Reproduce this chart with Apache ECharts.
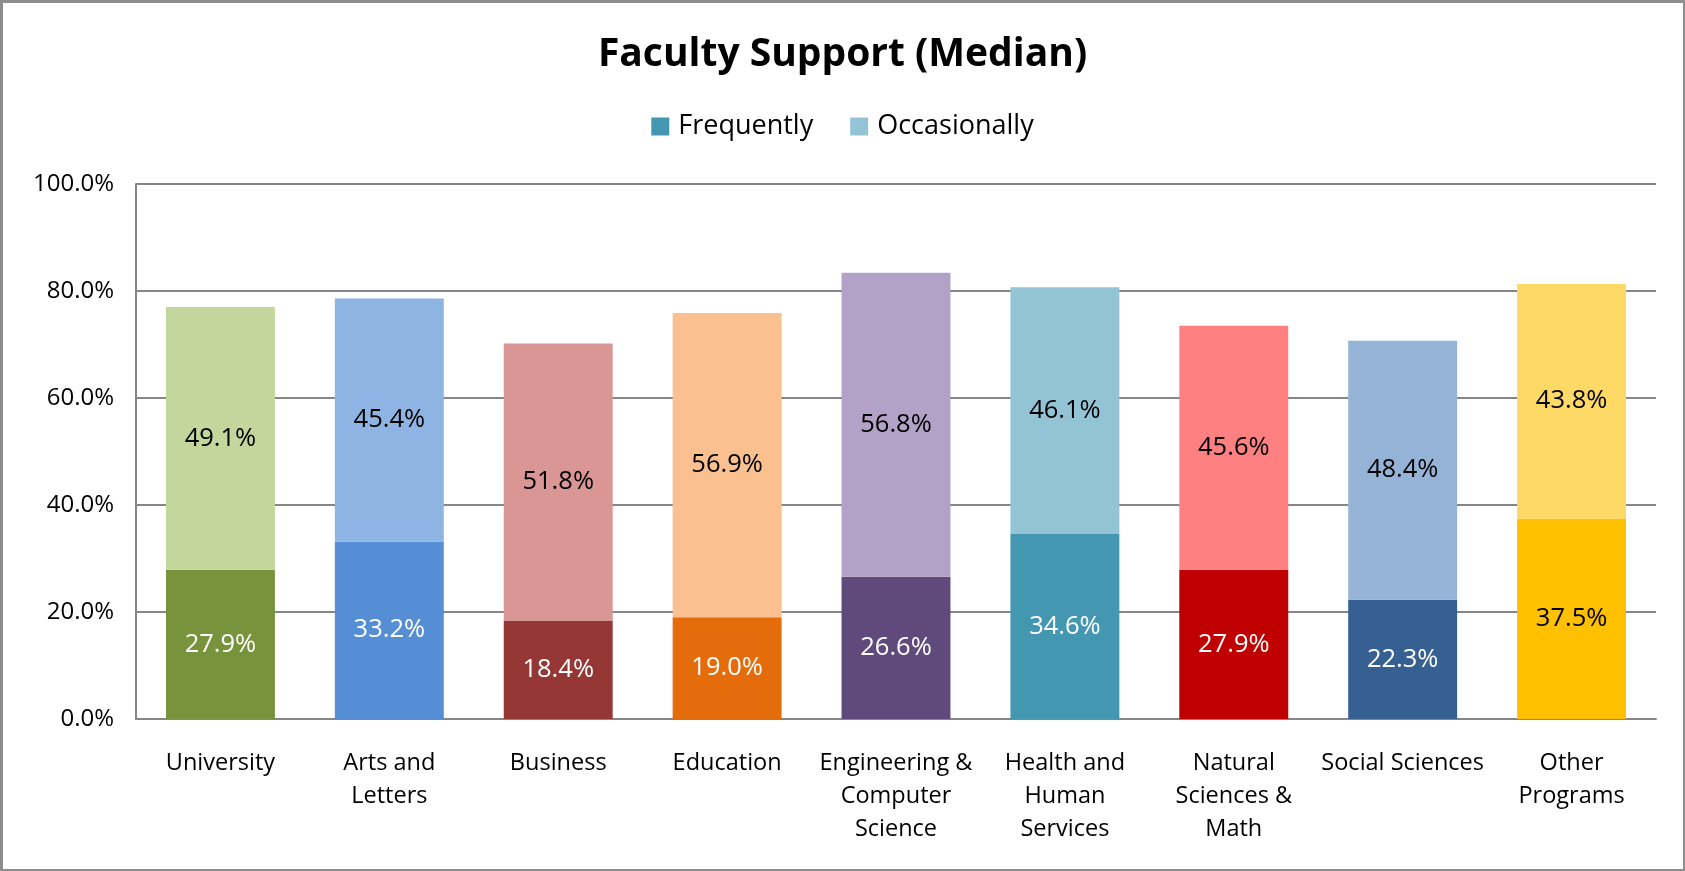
<!DOCTYPE html>
<html>
<head>
<meta charset="utf-8">
<title>Faculty Support (Median)</title>
<script src="https://cdn.jsdelivr.net/npm/echarts@6/dist/echarts.min.js"></script>
<style>
    html, body { margin: 0; padding: 0; background: #fff; }
    #chartMain { width: 1685px; height: 871px; }
    .frame {
        position: absolute; left: 0; top: 0;
        width: 1685px; height: 871px;
        box-sizing: border-box;
        border-style: solid; border-color: #8d8d8d;
        border-width: 3px 2px 2px 3px;
        pointer-events: none;
    }
</style>
</head>
<body>
<div id="chartMain"></div>
<div class="frame"></div>
<script>
    // data
    let categories = [
        'University', 'Arts and\nLetters', 'Business', 'Education',
        'Engineering &\nComputer\nScience', 'Health and\nHuman\nServices',
        'Natural\nSciences &\nMath', 'Social Sciences', 'Other\nPrograms'
    ];
    let frequently = [27.9, 33.2, 18.4, 19.0, 26.6, 34.6, 27.9, 22.3, 37.5];
    let occasionally = [49.1, 45.4, 51.8, 56.9, 56.8, 46.1, 45.6, 48.4, 43.8];
    let yTicks = [0, 20, 40, 60, 80, 100];

    // per-category colours (dark = frequently, light = occasionally)
    let darkColors = ['#77933C', '#558ED5', '#953735', '#E46C0A', '#604A7B', '#4397B0', '#C00000', '#366092', '#FFC000'];
    let lightColors = ['#C3D69B', '#8EB4E3', '#D99694', '#FAC090', '#B3A2C7', '#93C4D5', '#FF8080', '#95B3D7', '#FFD966'];
    let darkLabel = ['#fff', '#fff', '#fff', '#fff', '#fff', '#fff', '#fff', '#fff', '#000'];

    const FONT = '"Open Sans", "DejaVu Sans", sans-serif';
    let pct = (v) => v.toFixed(1) + '%';

    let myChart = echarts.init(document.getElementById('chartMain'));

    myChart.setOption({
        animation: false,
        textStyle: { fontFamily: FONT },
        title: {
            text: 'Faculty Support (Median)',
            left: 'center',
            top: 30,
            textStyle: { fontFamily: FONT, fontSize: 39, fontWeight: 'bold', color: '#000' }
        },
        legend: {
            top: 108,
            left: 'center',
            itemWidth: 18,
            itemHeight: 18,
            itemGap: 37,
            icon: 'rect',
            textStyle: { fontFamily: FONT, fontSize: 27, color: '#000', padding: [0, 0, 0, 4] },
            data: ['Frequently', 'Occasionally']
        },
        grid: { left: 136, right: 29, top: 184, bottom: 152 },
        xAxis: {
            type: 'category',
            data: categories,
            axisLine: { lineStyle: { color: '#868686', width: 2 } },
            axisTick: { show: false },
            axisLabel: {
                interval: 0,
                margin: 28,
                fontFamily: FONT,
                fontSize: 23.5,
                lineHeight: 33,
                color: '#000',
                verticalAlign: 'top'
            }
        },
        yAxis: {
            type: 'value',
            min: yTicks[0],
            max: yTicks[yTicks.length - 1],
            interval: yTicks[1] - yTicks[0],
            axisLine: { show: true, lineStyle: { color: '#868686', width: 2 } },
            axisTick: { show: false },
            splitLine: { lineStyle: { color: '#868686', width: 2 } },
            axisLabel: {
                margin: 22,
                fontFamily: FONT,
                fontSize: 24,
                color: '#000',
                formatter: (v) => pct(v)
            }
        },
        series: [
            {
                name: 'Frequently',
                type: 'bar',
                stack: 'total',
                barCategoryGap: '35.5%',
                itemStyle: { color: '#4397B0' },
                label: {
                    show: true,
                    position: 'inside',
                    fontFamily: FONT,
                    fontSize: 25.5,
                    formatter: (p) => pct(p.value)
                },
                data: frequently.map((v, i) => ({
                    value: v,
                    itemStyle: { color: darkColors[i] },
                    label: { color: darkLabel[i] }
                }))
            },
            {
                name: 'Occasionally',
                type: 'bar',
                stack: 'total',
                barCategoryGap: '35.5%',
                itemStyle: { color: '#93C4D5' },
                label: {
                    show: true,
                    position: 'inside',
                    fontFamily: FONT,
                    fontSize: 25.5,
                    color: '#000',
                    formatter: (p) => pct(p.value)
                },
                data: occasionally.map((v, i) => ({
                    value: v,
                    itemStyle: { color: lightColors[i] }
                }))
            }
        ]
    });
</script>
</body>
</html>
